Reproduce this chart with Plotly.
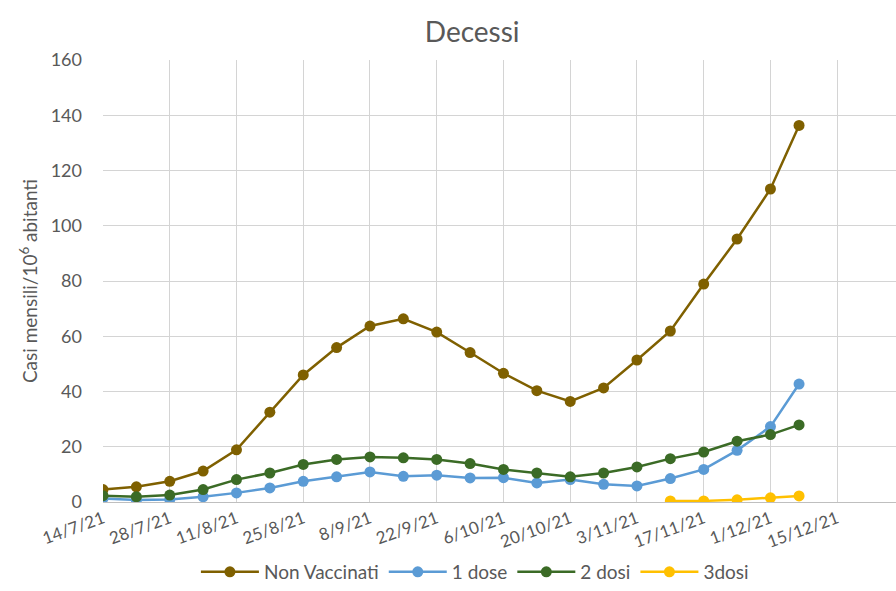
import plotly.graph_objects as go

# Weekly reporting dates
dates = [
    "2021-07-14", "2021-07-21", "2021-07-28", "2021-08-04", "2021-08-11",
    "2021-08-18", "2021-08-25", "2021-09-01", "2021-09-08", "2021-09-15",
    "2021-09-22", "2021-09-29", "2021-10-06", "2021-10-13", "2021-10-20",
    "2021-10-27", "2021-11-03", "2021-11-10", "2021-11-17", "2021-11-24",
    "2021-12-01", "2021-12-07",
]

non_vaccinati = [4.5, 5.5, 7.5, 11.2, 18.9, 32.5, 46.0, 55.9, 63.7, 66.3,
                 61.5, 54.1, 46.6, 40.3, 36.4, 41.3, 51.4, 61.9, 78.9, 95.2,
                 113.3, 136.3]
una_dose = [1.3, 0.7, 0.9, 1.9, 3.3, 5.1, 7.5, 9.1, 10.9, 9.3,
            9.7, 8.7, 8.8, 6.9, 8.1, 6.4, 5.8, 8.5, 11.8, 18.7,
            27.3, 42.7]
due_dosi = [2.3, 1.9, 2.5, 4.5, 8.1, 10.5, 13.6, 15.4, 16.3, 16.0,
            15.4, 13.9, 11.8, 10.5, 9.1, 10.5, 12.7, 15.7, 18.1, 22.0,
            24.4, 27.9]
tre_dosi = [None] * 17 + [0.4, 0.4, 0.8, 1.5, 2.2]

tick_dates = ["2021-07-14", "2021-07-28", "2021-08-11", "2021-08-25",
              "2021-09-08", "2021-09-22", "2021-10-06", "2021-10-20",
              "2021-11-03", "2021-11-17", "2021-12-01", "2021-12-15"]
tick_labels = ["14/7/21", "28/7/21", "11/8/21", "25/8/21", "8/9/21",
               "22/9/21", "6/10/21", "20/10/21", "3/11/21", "17/11/21",
               "1/12/21", "15/12/21"]

series = [
    ("Non Vaccinati", non_vaccinati, "#7F6000"),
    ("1 dose", una_dose, "#5B9BD5"),
    ("2 dosi", due_dosi, "#3B6B26"),
    ("3dosi", tre_dosi, "#FFC000"),
]

fig = go.Figure()
for name, values, color in series:
    fig.add_trace(go.Scatter(
        x=dates, y=values, name=name, mode="lines+markers",
        line=dict(color=color, width=2.5),
        marker=dict(color=color, size=11),
        connectgaps=False,
    ))

font_family = "Lato, 'Open Sans', sans-serif"
grey = "#595959"

fig.update_layout(
    width=896, height=591,
    margin=dict(l=103, r=0, t=60, b=88),
    paper_bgcolor="white", plot_bgcolor="white",
    font=dict(family=font_family, color=grey, size=17),
    title=dict(text="Decessi", x=0.527, xanchor="center", y=0.945,
               yanchor="middle", font=dict(size=28, color=grey)),
    showlegend=True,
    legend=dict(orientation="h", x=0.469, xanchor="center", y=-0.158,
                yanchor="middle", font=dict(size=19, color=grey),
                itemwidth=58, tracegroupgap=0),
    xaxis=dict(
        type="date",
        range=["2021-07-14", "2021-12-27 08:00"],
        tickvals=tick_dates, ticktext=tick_labels,
        tickangle=-20, tickfont=dict(size=17, color=grey),
        showgrid=True, gridcolor="#D4D4D4", gridwidth=1,
        showline=False, zeroline=False, ticks="", ticklabelstandoff=3,
    ),
    yaxis=dict(
        range=[0, 160], dtick=20, tick0=0,
        tickfont=dict(size=18, color=grey),
        showgrid=True, gridcolor="#D4D4D4", gridwidth=1,
        zeroline=True, zerolinecolor="#BFBFBF", zerolinewidth=1,
        showline=False, ticks="", ticklabelstandoff=20,
        title=dict(text="Casi mensili/10<sup>6</sup> abitanti",
                   font=dict(size=19, color=grey), standoff=8),
    ),
)

fig.write_html("out.html")
